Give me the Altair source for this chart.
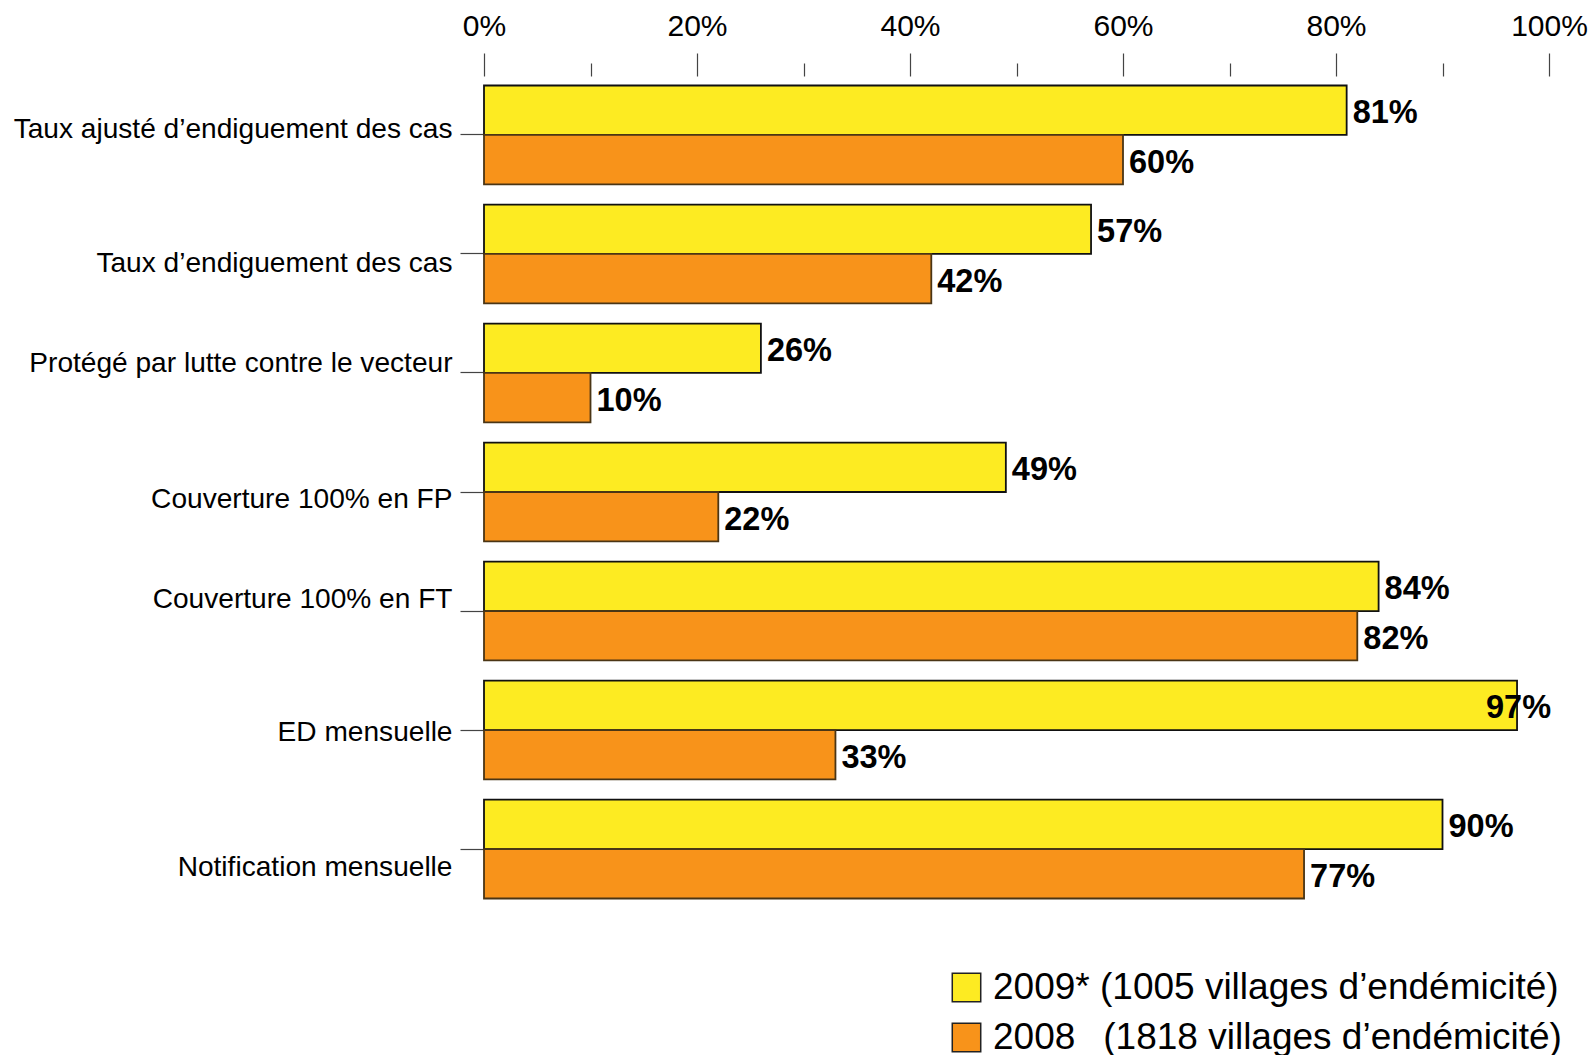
import json
import altair as alt
import pandas as pd

categories = [
    "Taux ajusté d’endiguement des cas",
    "Taux d’endiguement des cas",
    "Protégé par lutte contre le vecteur",
    "Couverture 100% en FP",
    "Couverture 100% en FT",
    "ED mensuelle",
    "Notification mensuelle",
]
values_2009 = [81, 57, 26, 49, 84, 97, 90]
values_2008 = [60, 42, 10, 22, 82, 33, 77]
series_2009 = "2009*\u00a0(1005 villages d’endémicité)"
series_2008 = "2008\u00a0\u00a0\u2009(1818 villages d’endémicité)"
x_ticks = [0, 10, 20, 30, 40, 50, 60, 70, 80, 90, 100]

rows = []
for c, a, b in zip(categories, values_2009, values_2008):
    rows.append({"category": c, "series": series_2009, "value": a})
    rows.append({"category": c, "series": series_2008, "value": b})
df = pd.DataFrame(rows)

YELLOW = "#FDEB22"
ORANGE = "#F8931A"
FONT = "Liberation Sans"

# per-label vertical nudges of category labels (style, as in the original slide)
label_nudge = {
    categories[0]: -5, categories[1]: 10, categories[2]: -9, categories[3]: 8,
    categories[4]: -11, categories[5]: 3, categories[6]: 19,
}
offset_cond = {
    "condition": [
        {"test": "datum.value === " + json.dumps(k, ensure_ascii=False), "value": v}
        for k, v in label_nudge.items()
    ],
    "value": 0,
}

y_enc = alt.Y(
    "category:N",
    sort=categories,
    scale=alt.Scale(paddingInner=0.17, paddingOuter=0.08),
    axis=alt.Axis(
        title=None, orient="left", domain=False, grid=False, tickSize=24, tickColor="#444",
        tickWidth=1.2, labelPadding=8, labelFontSize=28.1, labelColor="black",
        labelFont=FONT, labelLimit=0, labelOffset=offset_cond,
    ),
)
yoff = alt.YOffset("series:N", sort=[series_2009, series_2008])
x_scale = alt.Scale(domain=[0, 100], nice=False)

bars = alt.Chart(df).mark_bar(strokeWidth=1.8).encode(
    x=alt.X(
        "value:Q",
        scale=x_scale,
        axis=alt.Axis(
            title=None, orient="top", values=x_ticks, domain=False, grid=False,
            labelExpr="datum.value % 20 == 0 ? datum.value + '%' : ''",
            tickSize={"condition": {"test": "datum.value % 20 == 0", "value": 23}, "value": 13},
            tickColor="#444", tickWidth=1.2, labelFontSize=30, labelColor="black",
            labelFont=FONT, labelPadding=11.5, labelFlush=False, labelOverlap=False,
        ),
    ),
    y=y_enc,
    yOffset=yoff,
    fill=alt.Fill(
        "series:N",
        scale=alt.Scale(domain=[series_2009, series_2008], range=[YELLOW, ORANGE]),
        legend=alt.Legend(
            title=None, orient="none", legendX=464, legendY=893,
            symbolType="square", symbolSize=810, symbolStrokeColor="#222",
            symbolStrokeWidth=1.5, labelFontSize=37, labelFont=FONT,
            labelColor="black", labelOffset=8, rowPadding=12, padding=0,
            labelLimit=0,
        ),
    ),
    stroke=alt.condition(
        alt.datum.series == series_2009, alt.value("#111"), alt.value("#4a3515")
    ),
)

text_base = alt.Chart(df).transform_calculate(label="datum.value + '%'")

labels_normal = text_base.transform_filter("datum.value < 95").mark_text(
    align="left", baseline="middle", dx=6, dy=3, fontSize=32.5, fontWeight="bold",
    font=FONT, color="black",
).encode(x=alt.X("value:Q", scale=x_scale), y=alt.Y("category:N", sort=categories), yOffset=yoff, text="label:N")

labels_wide = text_base.transform_filter("datum.value >= 95").mark_text(
    align="right", baseline="middle", dx=34, dy=3, fontSize=32.5, fontWeight="bold",
    font=FONT, color="black",
).encode(x=alt.X("value:Q", scale=x_scale), y=alt.Y("category:N", sort=categories), yOffset=yoff, text="label:N")

chart = (
    alt.layer(bars, labels_normal, labels_wide)
    .properties(
        width=1065, height=832,
        autosize=alt.AutoSizeParams(type="none"),
        padding={"left": 476, "top": 68, "right": 39, "bottom": 147},
    )
    .configure(font=FONT)
    .configure_view(strokeWidth=0, stroke=None)
)

chart.save("out.html", embed_options={"renderer": "svg", "actions": False})
